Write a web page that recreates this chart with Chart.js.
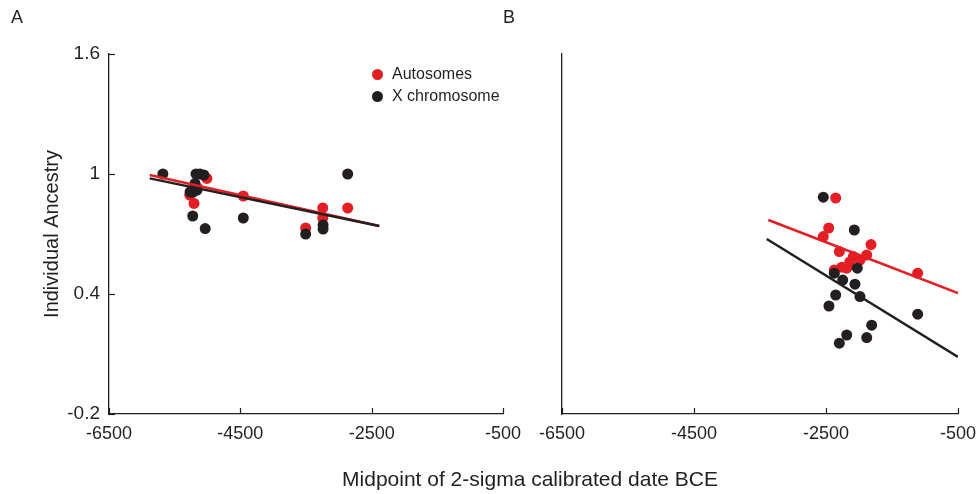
<!DOCTYPE html>
<html>
<head>
<meta charset="utf-8">
<title>Individual ancestry by date</title>
<script src="https://cdn.jsdelivr.net/npm/chart.js@4.4.1/dist/chart.umd.min.js"></script>
<style>
	body {
		margin: 0;
		width: 977px;
		height: 494px;
		overflow: hidden;
		position: relative;
		background: #fff;
		color: #231f20;
		font-family: "Liberation Sans", Arial, sans-serif;
	}
	canvas { position: absolute; top: 0; }
	#chartA { left: 0; }
	#chartB { left: 520px; }
	.panel-label { position: absolute; top: 7px; font-size: 18px; }
	#xtitle {
		position: absolute;
		top: 467px;
		left: 0;
		width: 1060px;
		text-align: center;
		font-size: 21px;
	}
	.legend { position: absolute; left: 372px; top: 63px; font-size: 16px; line-height: 22px; }
	.legend span.dot {
		display: inline-block;
		width: 11px;
		height: 11px;
		border-radius: 50%;
		margin-right: 9px;
		vertical-align: -1px;
	}
</style>
</head>
<body>
<canvas id="chartA" width="540" height="494"></canvas>
<canvas id="chartB" width="480" height="494"></canvas>
<div class="panel-label" style="left:11px">A</div>
<div class="panel-label" style="left:503px">B</div>
<div id="xtitle">Midpoint of 2-sigma calibrated date BCE</div>
<div class="legend">
	<div><span class="dot" style="background:#e31e24"></span>Autosomes</div>
	<div><span class="dot" style="background:#231f20"></span>X chromosome</div>
</div>
<script>
const red = '#e31e24';
const ink = '#231f20';

const xTicks = [-6500, -4500, -2500, -500];
const yTicks = [-0.2, 0.4, 1, 1.6];

// panel A: [date, ancestry]
const autosomesA = [
	[-5010, 0.978], [-5150, 0.93], [-5270, 0.895], [-5205, 0.853],
	[-4455, 0.89], [-3505, 0.73], [-3245, 0.83], [-3245, 0.78], [-2865, 0.83]
];
const xChromA = [
	[-5680, 1.0], [-5175, 1.0], [-5115, 1.0], [-5055, 0.995], [-5190, 0.953],
	[-5220, 0.91], [-5265, 0.91], [-5160, 0.92], [-5225, 0.79], [-5035, 0.727],
	[-4455, 0.78], [-3505, 0.70], [-3240, 0.745], [-3240, 0.725], [-2865, 1.0]
];
const autosomesFitA = [[-5880, 0.995], [-2384, 0.74]];
const xChromFitA = [[-5880, 0.978], [-2384, 0.74]];

// panel B
const autosomesB = [
	[-2353, 0.88], [-2459, 0.73], [-2541, 0.687], [-1818, 0.647], [-2298, 0.612],
	[-2086, 0.587], [-1985, 0.57], [-1883, 0.595], [-2140, 0.56], [-2262, 0.534],
	[-2186, 0.529], [-2374, 0.52], [-1111, 0.504]
];
const xChromB = [
	[-2541, 0.884], [-2071, 0.72], [-2026, 0.529], [-2374, 0.504], [-2247, 0.47],
	[-2061, 0.449], [-2353, 0.395], [-1985, 0.387], [-2455, 0.34], [-1111, 0.299],
	[-1808, 0.244], [-2186, 0.195], [-1883, 0.182], [-2298, 0.154]
];
const autosomesFitB = [[-3374, 0.77], [-500, 0.404]];
const xChromFitB = [[-3398, 0.675], [-500, 0.085]];

const toXY = arr => arr.map(([x, y]) => ({ x, y }));

// tick marks point into the plot area
const inwardTicks = {
	id: 'inwardTicks',
	afterDraw(chart, args, opts) {
		const { ctx, scales: { x, y } } = chart;
		ctx.save();
		ctx.strokeStyle = ink;
		ctx.lineWidth = 1.2;
		x.ticks.forEach(t => {
			const px = Math.round(x.getPixelForValue(t.value)) + 0.5;
			ctx.beginPath();
			ctx.moveTo(px, x.top);
			ctx.lineTo(px, x.top - 6);
			ctx.stroke();
		});
		if (opts.y) {
			y.ticks.forEach(t => {
				const py = Math.round(y.getPixelForValue(t.value)) + 0.5;
				ctx.beginPath();
				ctx.moveTo(y.right, py);
				ctx.lineTo(y.right + 6, py);
				ctx.stroke();
			});
		}
		ctx.restore();
	}
};

function makePanel(id, auto, xchr, autoFit, xFit, withYLabels) {
	const ctx = document.getElementById(id).getContext('2d');
	return new Chart(ctx, {
		type: 'scatter',
		data: {
			datasets: [
				{ data: toXY(auto), backgroundColor: red, borderWidth: 0, pointRadius: 5.5, order: 4 },
				{ data: toXY(xchr), backgroundColor: ink, borderWidth: 0, pointRadius: 5.5, order: 3 },
				{ type: 'line', data: toXY(autoFit), borderColor: red, borderWidth: 2.5, pointRadius: 0, order: 2 },
				{ type: 'line', data: toXY(xFit), borderColor: ink, borderWidth: 2.5, pointRadius: 0, order: 1 }
			]
		},
		options: {
			responsive: false,
			animation: false,
			layout: {
				padding: { top: 54, right: withYLabels ? 37 : 42, left: 0, bottom: 0 }
			},
			scales: {
				x: {
					type: 'linear',
					min: -6500,
					max: -500,
					afterBuildTicks: s => { s.ticks = xTicks.map(v => ({ value: v })); },
					afterFit: s => { s.height = 80; },
					grid: { display: false, drawTicks: false },
					border: { color: ink, width: 1.3 },
					ticks: {
						padding: 9,
						autoSkip: false,
						maxRotation: 0,
						color: ink,
						font: { family: '"Liberation Sans", Arial, sans-serif', size: 18 },
						callback: v => String(v)
					}
				},
				y: {
					min: -0.2,
					max: 1.6,
					afterBuildTicks: s => { s.ticks = yTicks.map(v => ({ value: v })); },
					afterFit: s => { s.width = withYLabels ? 109 : 42; },
					grid: { display: false, drawTicks: false },
					border: { color: ink, width: 1.3 },
					ticks: {
						display: withYLabels,
						padding: 9,
						color: ink,
						font: { family: '"Liberation Sans", Arial, sans-serif', size: 19 },
						callback: v => String(v)
					},
					title: {
						display: withYLabels,
						text: 'Individual Ancestry',
						color: ink,
						padding: { top: 40, bottom: 0 },
						font: { family: '"Liberation Sans", Arial, sans-serif', size: 20 }
					}
				}
			},
			plugins: {
				legend: { display: false },
				tooltip: { enabled: false },
				inwardTicks: { y: withYLabels }
			}
		},
		plugins: [inwardTicks]
	});
}

makePanel('chartA', autosomesA, xChromA, autosomesFitA, xChromFitA, true);
makePanel('chartB', autosomesB, xChromB, autosomesFitB, xChromFitB, false);
</script>
</body>
</html>
